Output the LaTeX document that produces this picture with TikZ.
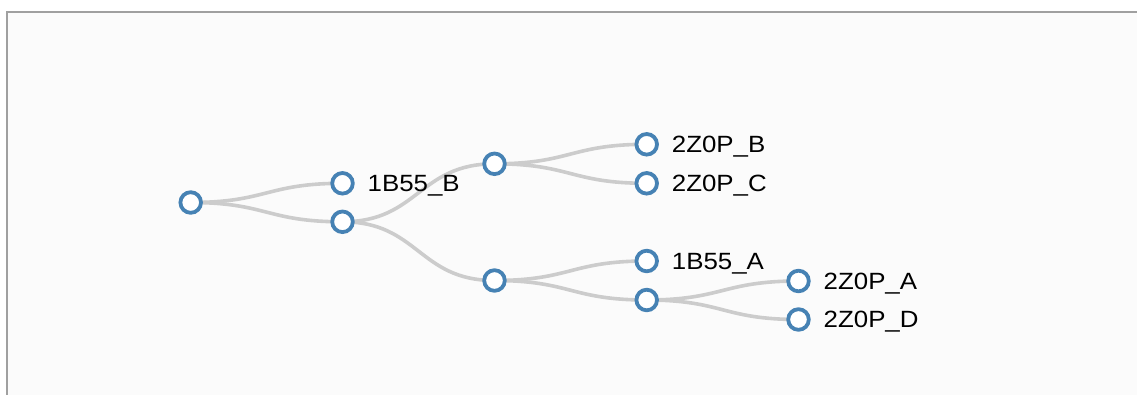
\documentclass[tikz,border=0pt]{standalone}
\usepackage{fontspec}
\setmainfont{Liberation Sans}[FakeStretch=1.1]
\usetikzlibrary{calc}
\definecolor{steel}{HTML}{4682B4}
\definecolor{linkgray}{HTML}{CCCCCC}
\definecolor{framegray}{HTML}{A0A0A0}
\definecolor{panel}{HTML}{FBFBFB}
\pgfdeclarelayer{background}
\pgfsetlayers{background,main}
\tikzset{
  treenode/.style={circle, draw=steel, fill=white, line width=3.8pt, minimum size=20.6pt, inner sep=0pt},
  leaflabel/.style={anchor=base west, inner sep=0pt, text=black, font=\fontsize{23.5}{27}\selectfont},
  treelink/.style={draw=linkgray, line width=3.6pt}
}
\newcommand\diaglink[2]{%
  \draw[treelink] let \p1=(#1.center), \p2=(#2.center) in
    (\p1) .. controls ({(\x1+\x2)/2},\y1) and ({(\x1+\x2)/2},\y2) .. (\p2);}
\begin{document}
\begin{tikzpicture}[x=1pt,y=-1pt]
\useasboundingbox (0,0) rectangle (1137,394);
\begin{pgfonlayer}{background}
  \fill[white] (0,0) rectangle (1137,394);
  \fill[panel] (7,12) rectangle (1140,400);
  \draw[framegray, line width=2pt] (7,400) -- (7,12) -- (1140,12);
\end{pgfonlayer}
% nodes
\node[treenode] (root) at (190.7,202.5) {};
\node[treenode] (b55b) at (342.5,183.3) {};
\node[treenode] (n1)   at (342.5,221.8) {};
\node[treenode] (n2)   at (494.5,163.8) {};
\node[treenode] (zb)   at (646.7,144.3) {};
\node[treenode] (zc)   at (646.7,183.3) {};
\node[treenode] (n3)   at (494.5,280.5) {};
\node[treenode] (b55a) at (646.7,261) {};
\node[treenode] (n4)   at (646.7,300) {};
\node[treenode] (za)   at (798.5,281) {};
\node[treenode] (zd)   at (798.5,319.5) {};
% labels
\node[leaflabel] (lb55b) at ($(b55b.center)+(25,8.4)$) {1B55\_B};
\node[leaflabel] (lzb)   at ($(zb.center)+(25,8.4)$) {2Z0P\_B};
\node[leaflabel] (lzc)   at ($(zc.center)+(25,8.4)$) {2Z0P\_C};
\node[leaflabel] (lb55a) at ($(b55a.center)+(25,8.4)$) {1B55\_A};
\node[leaflabel] (lza)   at ($(za.center)+(25,8.4)$) {2Z0P\_A};
\node[leaflabel] (lzd)   at ($(zd.center)+(25,8.4)$) {2Z0P\_D};
% links
\begin{pgfonlayer}{background}
  \diaglink{root}{b55b}
  \diaglink{root}{n1}
  \diaglink{n1}{n2}
  \diaglink{n1}{n3}
  \diaglink{n2}{zb}
  \diaglink{n2}{zc}
  \diaglink{n3}{b55a}
  \diaglink{n3}{n4}
  \diaglink{n4}{za}
  \diaglink{n4}{zd}
\end{pgfonlayer}
\end{tikzpicture}
\end{document}
